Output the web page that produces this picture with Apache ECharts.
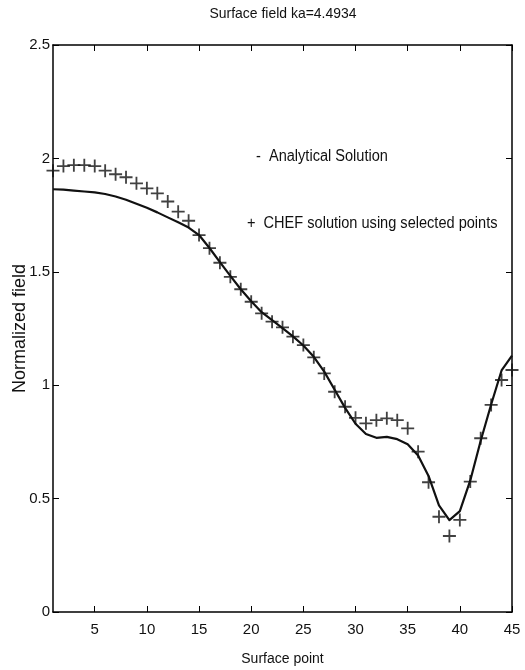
<!DOCTYPE html>
<html>
<head>
<meta charset="utf-8">
<script src="https://cdn.jsdelivr.net/npm/echarts@6/dist/echarts.min.js"></script>
<style>html,body{margin:0;padding:0;background:#fff}#c{width:525px;height:670px}</style>
</head>
<body>
<div id="c"></div>
<script>
const surfacePoints = [1,2,3,4,5,6,7,8,9,10,11,12,13,14,15,16,17,18,19,20,21,22,23,24,25,26,27,28,29,30,31,32,33,34,35,36,37,38,39,40,41,42,43,44,45];
const analytical = [1.864,1.862,1.858,1.854,1.850,1.843,1.832,1.818,1.800,1.782,1.762,1.740,1.718,1.695,1.662,1.605,1.543,1.482,1.423,1.370,1.322,1.287,1.252,1.215,1.175,1.125,1.060,0.980,0.900,0.830,0.785,0.768,0.772,0.762,0.740,0.690,0.600,0.470,0.405,0.445,0.580,0.755,0.915,1.065,1.130];
const chefSolution = [1.946,1.966,1.970,1.970,1.966,1.946,1.930,1.917,1.890,1.868,1.846,1.810,1.765,1.725,1.662,1.604,1.540,1.478,1.423,1.368,1.317,1.280,1.255,1.214,1.177,1.123,1.052,0.971,0.905,0.856,0.832,0.846,0.854,0.846,0.810,0.707,0.572,0.420,0.335,0.406,0.575,0.766,0.913,1.023,1.067];
const xTicks = [5,10,15,20,25,30,35,40,45];
const yTicks = [0,0.5,1,1.5,2,2.5];
const titleText = 'Surface field ka=4.4934';
const xName = 'Surface point';
const yName = 'Normalized field';
const legendLine = '-  Analytical Solution';
const legendPlus = '+  CHEF solution using selected points';

const FONT = 'Liberation Sans, Arial, sans-serif';
const chart = echarts.init(document.getElementById('c'), null, {renderer: 'canvas'});
const pair = (xs, ys) => xs.map((x, i) => [x, ys[i]]);
const plusPath = 'path://M4.3,0H5.7V4.3H10V5.7H5.7V10H4.3V5.7H0V4.3H4.3Z';
const axisBase = {
  axisLine: {show: true, onZero: false, lineStyle: {color: '#000', width: 1.5}},
  splitLine: {show: false}
};
chart.setOption({
  animation: false,
  backgroundColor: '#fff',
  grid: {left: 53, right: 13, top: 45, bottom: 58, containLabel: false, outerBoundsMode: 'none'},
  xAxis: [
    Object.assign({}, axisBase, {
      type: 'value', position: 'bottom', min: 1, max: 45,
      name: xName, nameLocation: 'middle', nameGap: 40, nameMoveOverlap: false,
      nameTextStyle: {fontFamily: FONT, fontSize: 14, color: '#111'},
      axisTick: {show: true, inside: true, length: 6, customValues: xTicks, lineStyle: {color: '#000', width: 1}},
      axisLabel: {customValues: xTicks, fontFamily: FONT, fontSize: 15, color: '#111', margin: 10}
    }),
    Object.assign({}, axisBase, {
      type: 'value', position: 'top', min: 1, max: 45,
      axisTick: {show: true, inside: true, length: 6, customValues: xTicks, lineStyle: {color: '#000', width: 1}},
      axisLabel: {show: false}
    })
  ],
  yAxis: [
    Object.assign({}, axisBase, {
      type: 'value', position: 'left', min: 0, max: 2.5, interval: 0.5,
      name: yName, nameLocation: 'middle', nameGap: 24, nameMoveOverlap: false,
      nameTextStyle: {fontFamily: FONT, fontSize: 18, color: '#111'},
      axisTick: {show: true, inside: true, length: 6, lineStyle: {color: '#000', width: 1}},
      axisLabel: {fontFamily: FONT, fontSize: 15, color: '#111', margin: 3,
        formatter: v => String(v)}
    }),
    Object.assign({}, axisBase, {
      type: 'value', position: 'right', min: 0, max: 2.5, interval: 0.5,
      axisTick: {show: true, inside: true, length: 6, lineStyle: {color: '#000', width: 1}},
      axisLabel: {show: false}
    })
  ],
  series: [
    {
      type: 'line', name: 'Analytical Solution', data: pair(surfacePoints, analytical),
      xAxisIndex: 0, yAxisIndex: 0, showSymbol: false, symbol: 'none', smooth: false,
      lineStyle: {color: '#111', width: 2.2, join: 'round'}, z: 3
    },
    {
      type: 'scatter', name: 'CHEF solution using selected points', data: pair(surfacePoints, chefSolution),
      xAxisIndex: 0, yAxisIndex: 0, symbol: plusPath, symbolSize: 13,
      itemStyle: {color: '#111'}, z: 4
    }
  ],
  graphic: [
    {type: 'text', x: 283, y: 14, scaleX: 0.93, style: {text: titleText, fontFamily: FONT, fontSize: 15, fill: '#111', align: 'center', verticalAlign: 'middle'}},
    {type: 'text', x: 256, y: 157, scaleX: 0.91, style: {text: legendLine, fontFamily: FONT, fontSize: 16, fill: '#111', verticalAlign: 'middle'}},
    {type: 'text', x: 247, y: 224, scaleX: 0.91, style: {text: legendPlus, fontFamily: FONT, fontSize: 16, fill: '#111', verticalAlign: 'middle'}}
  ]
});
</script>
</body>
</html>
